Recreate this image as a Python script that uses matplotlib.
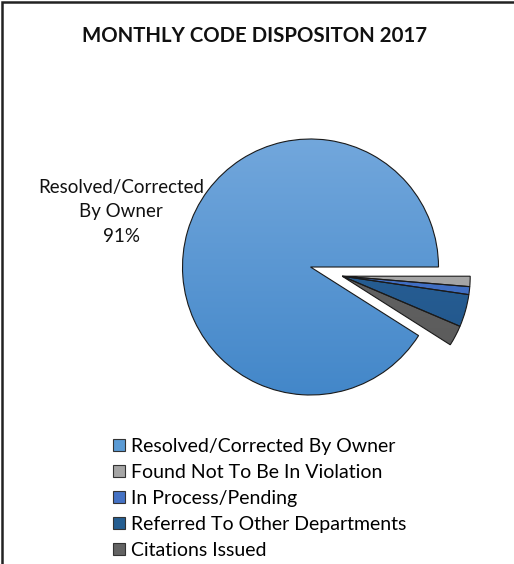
import numpy as np
import matplotlib.pyplot as plt
from matplotlib.patches import Patch
from matplotlib.colors import LinearSegmentedColormap

plt.rcParams['font.family'] = ['Lato', 'DejaVu Sans']

# data
categories = ['Resolved/Corrected By Owner', 'Found Not To Be In Violation',
              'In Process/Pending', 'Referred To Other Departments', 'Citations Issued']
values = [91.0, 1.3, 1.0, 4.1, 2.6]
label_text = 'Resolved/Corrected\nBy Owner\n91%'
title = 'MONTHLY CODE DISPOSITON 2017'

# colours (top, bottom of gradient)
tops = ['#72a7dc', '#b4b4b4', '#4a7ad0', '#2f679d', '#6e6e6e']
bottoms = ['#4387c9', '#9a9a9a', '#3a66b8', '#1f5489', '#575757']
mids = ['#5b9bd5', '#a5a5a5', '#4472c4', '#255e91', '#636363']

W, H = 514, 564
fig = plt.figure(figsize=(W / 100, H / 100), dpi=100)
ax = fig.add_axes([0, 0, 1, 1])

cx, cy, r = 310.5, H - 267, 128
start = 360 * values[0] / sum(values)
wedges, _ = ax.pie(values, radius=r, center=(cx, cy), startangle=start,
                   counterclock=False,
                   wedgeprops=dict(edgecolor='#1a1a1a', linewidth=0.8))

# small slices pulled out together along their common bisector
a1 = wedges[1].theta2
a2 = wedges[-1].theta1
mid = np.deg2rad((a1 + a2) / 2 if a1 > a2 else (a1 + a2 - 360) / 2)
d = 33
for w in wedges[1:]:
    w.set_center((cx + d * np.cos(mid), cy + d * np.sin(mid)))

# vertical gradient fill clipped to each wedge
grad = np.linspace(0, 1, 256).reshape(-1, 1)
for w, t, b in zip(wedges, tops, bottoms):
    cmap = LinearSegmentedColormap.from_list('g', [b, t])
    w.set_facecolor('none')
    im = ax.imshow(grad, cmap=cmap, origin='lower', aspect='auto',
                   extent=[cx - r, cx + r + d, cy - r, cy + r], zorder=0.5)
    im.set_clip_path(w)
    w.set_zorder(1)

ax.set_xlim(0, W)
ax.set_ylim(0, H)
ax.axis('off')

ax.text(121, H - 212, label_text, ha='center', va='center', fontsize=13.5,
        linespacing=1.55, color='#111111')

fig.text(255 / W, 1 - 36 / H, title, ha='center', va='center',
         fontsize=14.7, fontweight='bold', color='#111111')

handles = [Patch(facecolor=c, edgecolor='#333333', linewidth=0.8) for c in mids]
fig.legend(handles, categories, loc='upper left',
           bbox_to_anchor=(113 / W, 1 - 438 / H), frameon=False,
           fontsize=14, handlelength=0.62, handleheight=0.62,
           handletextpad=0.3, labelspacing=0.46, borderpad=0,
           borderaxespad=0)

# chart border (left and top)
ax.plot([2, 2, W], [0, H - 2, H - 2], color='#222222', lw=1.8,
        solid_joinstyle='miter', clip_on=False)

fig.savefig('out.png', dpi=100)
